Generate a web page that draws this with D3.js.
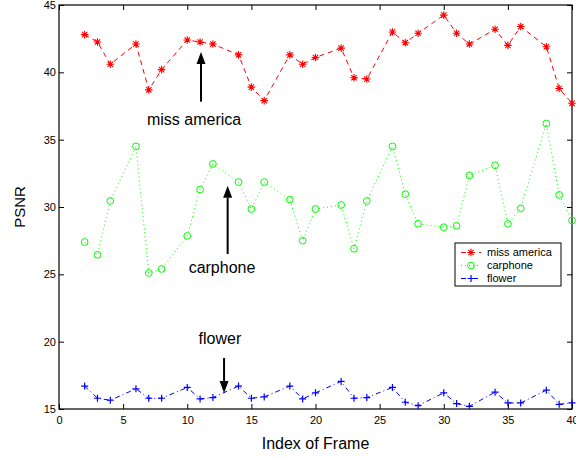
<!DOCTYPE html>
<html lang="en">
<head>
    <meta charset="utf-8">
    <title>PSNR per frame</title>
    <script src="https://d3js.org/d3.v7.min.js"></script>
    <style>
        body {
            margin: 0;
            background: #fff;
            font-family: "Liberation Sans", Arial, sans-serif;
        }
        .axis text {
            font-size: 11px;
            fill: #000;
        }
        .axis line {
            stroke: #000;
        }
    </style>
</head>
<body>
    <svg id="chart" width="576" height="459"></svg>

    <script>
        // frame indices shared by all three sequences
        const frames = [2, 3, 4, 6, 7, 8, 10, 11, 12, 14, 15, 16, 18, 19, 20,
                        22, 23, 24, 26, 27, 28, 30, 31, 32, 34, 35, 36, 38, 39, 40];

        const missAmerica = [42.8, 42.25, 40.6, 42.1, 38.7, 40.2, 42.4, 42.25, 42.1, 41.3, 38.9, 37.9, 41.3, 40.6, 41.1,
                             41.8, 39.6, 39.5, 43.0, 42.2, 42.9, 44.25, 42.9, 42.1, 43.2, 42.0, 43.4, 41.9, 38.8, 37.7];

        const carphone = [27.4, 26.45, 30.45, 34.5, 25.1, 25.4, 27.85, 31.3, 33.2, 31.85, 29.85, 31.85, 30.55, 27.5, 29.85,
                          30.15, 26.9, 30.45, 34.5, 30.95, 28.75, 28.5, 28.6, 32.35, 33.1, 28.75, 29.9, 36.2, 30.9, 29.0];

        const flower = [16.7, 15.8, 15.65, 16.5, 15.8, 15.8, 16.6, 15.75, 15.85, 16.7, 15.8, 15.9, 16.7, 15.75, 16.2,
                        17.05, 15.8, 15.85, 16.6, 15.5, 15.25, 16.2, 15.4, 15.2, 16.25, 15.45, 15.45, 16.4, 15.35, 15.45];

        const seriesNames = ["miss america", "carphone", "flower"];
        const xTicks = [0, 5, 10, 15, 20, 25, 30, 35, 40];
        const yTicks = [15, 20, 25, 30, 35, 40, 45];

        // annotation labels and arrows, in data units
        const labelText = ["miss america", "carphone", "flower"];
        const labelX = [10.53, 12.71, 12.55];
        const labelY = [36.53, 25.54, 20.27];
        const arrowX = [11.07, 13.15, 12.87];
        const arrowFrom = [37.82, 26.51, 18.79];
        const arrowTo = [41.51, 31.58, 16.19];

        const svg = d3.select("#chart");

        const x = d3.scaleLinear().domain([0, 40]).range([59, 572]);
        const y = d3.scaleLinear().domain([15, 45]).range([409, 5]);

        const series = [
            { name: seriesNames[0], values: missAmerica, color: "#ff0000", dash: "5,4", marker: "star" },
            { name: seriesNames[1], values: carphone, color: "#00ff00", dash: "1,3", marker: "circle" },
            { name: seriesNames[2], values: flower, color: "#0000ff", dash: "5,3,1,3", marker: "plus" }
        ];

        // axes with inward ticks on all four sides
        svg.append("g")
            .attr("class", "axis")
            .attr("transform", `translate(0,${y(15)})`)
            .call(d3.axisBottom(x).tickValues(xTicks).tickSizeInner(-5).tickSizeOuter(0).tickPadding(7))
            .call(g => g.select(".domain").remove());

        svg.append("g")
            .attr("class", "axis")
            .attr("transform", `translate(0,${y(45)})`)
            .call(d3.axisTop(x).tickValues(xTicks).tickSizeInner(-5).tickSizeOuter(0).tickFormat(""))
            .call(g => g.select(".domain").remove());

        svg.append("g")
            .attr("class", "axis")
            .attr("transform", `translate(${x(0)},0)`)
            .call(d3.axisLeft(y).tickValues(yTicks).tickSizeInner(-5).tickSizeOuter(0).tickPadding(3))
            .call(g => g.select(".domain").remove());

        svg.append("g")
            .attr("class", "axis")
            .attr("transform", `translate(${x(40)},0)`)
            .call(d3.axisRight(y).tickValues(yTicks).tickSizeInner(-5).tickSizeOuter(0).tickFormat(""))
            .call(g => g.select(".domain").remove());

        svg.append("rect")
            .attr("x", x(0))
            .attr("y", y(45))
            .attr("width", x(40) - x(0))
            .attr("height", y(15) - y(45))
            .attr("fill", "none")
            .attr("stroke", "#000")
            .attr("stroke-width", 1.2);

        // axis titles
        svg.append("text")
            .attr("x", (x(0) + x(40)) / 2)
            .attr("y", 449)
            .attr("text-anchor", "middle")
            .style("font-size", "16px")
            .text("Index of Frame");

        svg.append("text")
            .attr("transform", `translate(25,${(y(15) + y(45)) / 2}) rotate(-90)`)
            .attr("text-anchor", "middle")
            .style("font-size", "15px")
            .text("PSNR");

        function drawMarker(g, type, color) {
            if (type === "circle") {
                g.append("circle").attr("r", 3.4)
                    .attr("fill", "none").attr("stroke", color).attr("stroke-width", 1);
            } else if (type === "plus") {
                g.append("path").attr("d", "M-3.5,0H3.5M0,-3.5V3.5")
                    .attr("stroke", color).attr("stroke-width", 1.2);
            } else {
                g.append("path").attr("d", "M-3.8,0H3.8M0,-3.8V3.8M-2.7,-2.7L2.7,2.7M-2.7,2.7L2.7,-2.7")
                    .attr("stroke", color).attr("stroke-width", 1.1);
            }
        }

        const line = d3.line()
            .x(d => x(d[0]))
            .y(d => y(d[1]));

        series.forEach(s => {
            const pts = frames.map((f, i) => [f, s.values[i]]);

            svg.append("path")
                .datum(pts)
                .attr("d", line)
                .attr("fill", "none")
                .attr("stroke", s.color)
                .attr("stroke-width", 1)
                .attr("stroke-dasharray", s.dash);

            svg.append("g")
                .selectAll("g")
                .data(pts)
                .enter().append("g")
                .attr("transform", d => `translate(${x(d[0])},${y(d[1])})`)
                .each(function() { drawMarker(d3.select(this), s.marker, s.color); });
        });

        // annotations
        labelText.forEach((t, i) => {
            svg.append("text")
                .attr("x", x(labelX[i]))
                .attr("y", y(labelY[i]))
                .attr("dy", "0.35em")
                .attr("text-anchor", "middle")
                .style("font-size", "16px")
                .text(t);

            const x0 = x(arrowX[i]), y0 = y(arrowFrom[i]), y1 = y(arrowTo[i]);
            const dir = y1 < y0 ? 1 : -1;   // 1 means arrow points up
            const headLen = 12, headHalf = 4.5;
            svg.append("line")
                .attr("x1", x0).attr("x2", x0)
                .attr("y1", y0).attr("y2", y1 + dir * headLen)
                .attr("stroke", "#000")
                .attr("stroke-width", 2);
            svg.append("path")
                .attr("d", `M${x0},${y1}L${x0 - headHalf},${y1 + dir * headLen}L${x0 + headHalf},${y1 + dir * headLen}Z`)
                .attr("fill", "#000");
        });

        // legend
        const legend = svg.append("g").attr("transform", "translate(455,243)");
        legend.append("rect")
            .attr("width", 106)
            .attr("height", 43)
            .attr("fill", "#fff")
            .attr("stroke", "#000")
            .attr("stroke-width", 1);

        series.forEach((s, i) => {
            const ly = 9.5 + i * 13;
            legend.append("line")
                .attr("x1", 6).attr("x2", 26)
                .attr("y1", ly).attr("y2", ly)
                .attr("stroke", s.color)
                .attr("stroke-dasharray", s.dash);
            const m = legend.append("g").attr("transform", `translate(16,${ly})`);
            drawMarker(m, s.marker, s.color);
            legend.append("text")
                .attr("x", 32)
                .attr("y", ly)
                .attr("dy", "0.35em")
                .style("font-size", "11px")
                .text(s.name);
        });
    </script>
</body>
</html>
